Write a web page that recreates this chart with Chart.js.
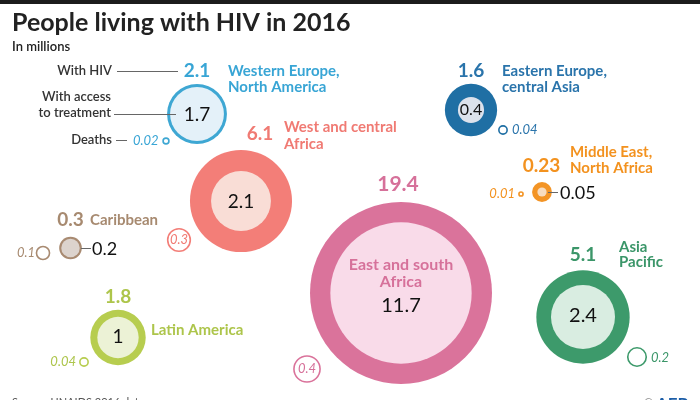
<!DOCTYPE html>
<html>
<head>
<meta charset="utf-8">
<script src="https://cdn.jsdelivr.net/npm/chart.js@4.4.0/dist/chart.umd.min.js"></script>
<style>
  html, body { margin: 0; padding: 0; background: #fff; }
  #wrap { position: relative; width: 700px; height: 400px; overflow: hidden; }
</style>
</head>
<body>
<div id="wrap"><canvas id="hiv" width="700" height="400"></canvas></div>
<script>
// values in millions
const regions = ['Western Europe, North America', 'Eastern Europe, central Asia', 'West and central Africa',
    'Middle East, North Africa', 'East and south Africa', 'Caribbean', 'Latin America', 'Asia Pacific'];
const withHiv = [2.1, 1.6, 6.1, 0.23, 19.4, 0.3, 1.8, 5.1];
const treatment = [1.7, 0.4, 2.1, 0.05, 11.7, 0.2, 1, 2.4];
const deaths = [0.02, 0.04, 0.3, 0.01, 0.4, 0.1, 0.04, 0.2];

// where each region sits on the page (x/y in a 700x400 grid)
const centers = [[197, 114], [471, 110], [241, 201], [542, 192], [401, 293], [70.5, 248], [118, 337.5], [583, 317]];
const deathSpots = [[166, 141], [503, 130], [179, 240], [521, 194], [307, 369], [43, 253], [84, 362], [637, 357]];

const mainColors = ['#3ea7d3', '#1f6fa4', '#f37e78', '#f39425', '#da739b', '#a88a71', '#b7cd4f', '#3d9a6b'];
const innerColors = ['#e4f1f9', '#dce2ec', '#f9ddd6', '#f7dcc0', '#f9dbe9', '#dcd3cd', '#ecf2d6', '#d9ede1'];
const labelColors = ['#38a5d5', '#2a74ab', '#f07a73', '#f3921f', '#d6719a', '#a78a70', '#adc54b', '#3b9669'];

// bubble area proportional to value
const K = 20.66;
const rad = v => K * Math.sqrt(v);

const FONT = 'Lato, "Open Sans", sans-serif';

const texts = [
    // [text, x, y, align, font, color]
    ['With HIV', 112, 71, 'right', '600 13px', '#333'],
    ['With access', 111, 97, 'right', '600 13px', '#333'],
    ['to treatment', 111, 113, 'right', '600 13px', '#333'],
    ['Deaths', 112, 140, 'right', '600 13px', '#333'],
    ['0.02', 133, 141, 'left', 'italic 13px', labelColors[0]],
    ['2.1', 197, 71, 'center', 'bold 19px', labelColors[0]],
    ['Western Europe,', 228, 71, 'left', 'bold 15px', labelColors[0]],
    ['North America', 228, 87, 'left', 'bold 15px', labelColors[0]],
    ['1.7', 197, 115, 'center', '19px', '#111'],

    ['1.6', 471, 71, 'center', 'bold 19px', labelColors[1]],
    ['Eastern Europe,', 502, 71, 'left', 'bold 15px', labelColors[1]],
    ['central Asia', 502, 87, 'left', 'bold 15px', labelColors[1]],
    ['0.4', 471, 110, 'center', '16px', '#111'],
    ['0.04', 512, 130, 'left', 'italic 13px', labelColors[1]],

    ['6.1', 260, 134, 'center', 'bold 19px', labelColors[2]],
    ['West and central', 284, 127, 'left', 'bold 15px', labelColors[2]],
    ['Africa', 284, 144, 'left', 'bold 15px', labelColors[2]],
    ['2.1', 241, 202, 'center', '19px', '#111'],
    ['0.3', 179, 240, 'center', 'italic 13px', labelColors[2]],

    ['0.23', 541.5, 166, 'center', 'bold 19px', labelColors[3]],
    ['Middle East,', 570, 152, 'left', 'bold 15px', labelColors[3]],
    ['North Africa', 570, 168, 'left', 'bold 15px', labelColors[3]],
    ['0.05', 560, 193, 'left', '18px', '#111'],
    ['0.01', 515, 194, 'right', 'italic 13px', labelColors[3]],

    ['19.4', 398, 184, 'center', 'bold 21px', labelColors[4]],
    ['East and south', 401, 265, 'center', 'bold 16px', labelColors[4]],
    ['Africa', 401, 282, 'center', 'bold 16px', labelColors[4]],
    ['11.7', 401, 306, 'center', '20px', '#111'],
    ['0.4', 307, 369, 'center', 'italic 13px', labelColors[4]],

    ['0.3', 70.5, 220, 'center', 'bold 19px', labelColors[5]],
    ['Caribbean', 90, 220, 'left', 'bold 15px', labelColors[5]],
    ['0.2', 92, 249, 'left', '18px', '#111'],
    ['0.1', 35, 253, 'right', 'italic 13px', labelColors[5]],

    ['1.8', 118, 297, 'center', 'bold 19px', labelColors[6]],
    ['Latin America', 151, 330, 'left', 'bold 15px', labelColors[6]],
    ['1', 118, 337, 'center', '19px', '#111'],
    ['0.04', 76, 362, 'right', 'italic 13px', labelColors[6]],

    ['5.1', 583, 255, 'center', 'bold 19px', labelColors[7]],
    ['Asia', 619, 247, 'left', 'bold 15px', labelColors[7]],
    ['Pacific', 619, 262, 'left', 'bold 15px', labelColors[7]],
    ['2.4', 583, 316, 'center', '20px', '#111'],
    ['0.2', 651, 358, 'left', 'italic 13px', labelColors[7]]
];

const leaders = [
    [117, 71, 178, 71],
    [114, 114, 176, 114],
    [116, 140, 127, 140],
    [548, 192, 558, 192],
    [81, 248, 91, 248]
];

const labelPlugin = {
    id: 'labels',
    afterDatasetsDraw(chart) {
        const c = chart.ctx;
        const sx = chart.scales.x, sy = chart.scales.y;
        c.save();
        // dark band at the top
        c.fillStyle = '#1c1c1c';
        c.fillRect(0, 0, 700, 4);

        c.fillStyle = '#222';
        c.textBaseline = 'middle';
        c.textAlign = 'left';
        c.font = 'bold 25px ' + FONT;
        c.fillText('People living with HIV in 2016', 12, 23);
        c.font = '600 13px ' + FONT;
        c.fillText('In millions', 12, 47);

        c.strokeStyle = '#666';
        c.lineWidth = 1;
        leaders.forEach(([x1, y1, x2, y2]) => {
            c.beginPath();
            c.moveTo(sx.getPixelForValue(x1), sy.getPixelForValue(y1) + 0.5);
            c.lineTo(sx.getPixelForValue(x2), sy.getPixelForValue(y2) + 0.5);
            c.stroke();
        });

        texts.forEach(([t, x, y, align, f, col]) => {
            c.font = f + ' ' + FONT;
            c.fillStyle = col;
            c.textAlign = align;
            c.fillText(t, sx.getPixelForValue(x), sy.getPixelForValue(y));
        });

        c.textBaseline = 'alphabetic';
        c.textAlign = 'left';
        c.font = '11px ' + FONT;
        c.fillStyle = '#555';
        c.fillText('Source: UNAIDS 2016 data', 12, 406);
        c.fillText('©', 644, 407);
        c.font = 'bold 17px ' + FONT;
        c.fillStyle = '#1d5ea8';
        c.fillText('AFP', 656, 410);
        c.restore();
    }
};

const outerData = withHiv.map((v, i) => ({ x: centers[i][0], y: centers[i][1], r: rad(v) }));
const innerData = treatment.map((v, i) => ({ x: centers[i][0], y: centers[i][1], r: rad(v) }));
const deathData = deaths.map((v, i) => ({ x: deathSpots[i][0], y: deathSpots[i][1], r: rad(v) }));

const config = {
    type: 'bubble',
    data: {
        labels: regions,
        datasets: [
            {
                label: 'Deaths',
                data: deathData,
                backgroundColor: '#fff',
                borderColor: mainColors,
                borderWidth: 1.6,
                order: 0
            },
            {
                label: 'With access to treatment',
                data: innerData,
                backgroundColor: innerColors,
                borderWidth: 0,
                order: 1
            },
            {
                label: 'With HIV',
                data: outerData,
                backgroundColor: mainColors,
                borderWidth: 0,
                order: 2
            }
        ]
    },
    options: {
        responsive: false,
        animation: false,
        devicePixelRatio: 1,
        events: [],
        layout: { padding: 0, autoPadding: false },
        plugins: {
            legend: { display: false },
            title: { display: false },
            tooltip: { enabled: false }
        },
        scales: {
            x: { type: 'linear', min: 0, max: 700, display: false },
            y: { type: 'linear', min: 0, max: 400, reverse: true, display: false }
        }
    },
    plugins: [labelPlugin]
};

const ctx = document.getElementById('hiv').getContext('2d');
const hivChart = new Chart(ctx, config);
</script>
</body>
</html>
